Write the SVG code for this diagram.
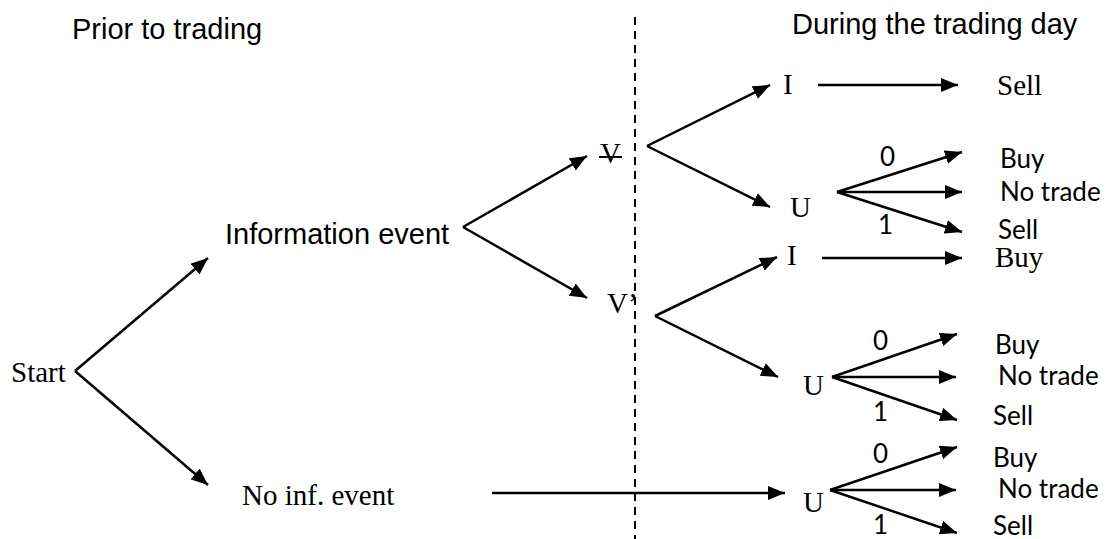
<svg xmlns="http://www.w3.org/2000/svg" width="1107" height="539" viewBox="0 0 1107 539">
<style>
.ar{font-family:"Liberation Sans",Arial,sans-serif;font-size:29px;fill:#000}
.tm{font-family:"Liberation Serif","Times New Roman",serif;font-size:29px;fill:#000}
.cb{font-family:Lato,"Open Sans",sans-serif;font-size:26px;fill:#000}
.c{stroke:#000;stroke-width:2.5;fill:none;marker-end:url(#ah)}
</style>
<defs>
<marker id="ah" markerUnits="userSpaceOnUse" markerWidth="18" markerHeight="14" refX="17" refY="7" orient="auto">
<path d="M0,0 L17,7 L0,14 z" fill="#000"/>
</marker>
</defs>
<g id="headers">
<text class="ar" x="72" y="39">Prior to trading</text>
<text class="ar" x="792" y="34">During the trading day</text>
</g>
<line x1="635" y1="17" x2="635" y2="539" stroke="#000" stroke-width="2" stroke-dasharray="8,6"/>
<g id="connectors">
<line class="c" x1="75" y1="371" x2="208" y2="258"/>
<line class="c" x1="75" y1="371" x2="208" y2="485"/>
<line class="c" x1="463" y1="227" x2="587" y2="156"/>
<line class="c" x1="463" y1="227" x2="587" y2="298"/>
<line class="c" x1="647" y1="146" x2="770" y2="85"/>
<line class="c" x1="647" y1="146" x2="770" y2="207"/>
<line class="c" x1="818" y1="85" x2="958" y2="85"/>
<line class="c" x1="837" y1="192" x2="962" y2="152"/>
<line class="c" x1="837" y1="192" x2="962" y2="192"/>
<line class="c" x1="837" y1="192" x2="962" y2="232"/>
<line class="c" x1="655" y1="316" x2="777" y2="257"/>
<line class="c" x1="655" y1="316" x2="778" y2="377"/>
<line class="c" x1="822" y1="258" x2="962" y2="258"/>
<line class="c" x1="832" y1="377" x2="957" y2="334"/>
<line class="c" x1="832" y1="377" x2="956" y2="377"/>
<line class="c" x1="832" y1="377" x2="957" y2="420"/>
<line class="c" x1="492" y1="493" x2="785" y2="493"/>
<line class="c" x1="830" y1="490" x2="957" y2="447"/>
<line class="c" x1="830" y1="490" x2="956" y2="490"/>
<line class="c" x1="830" y1="490" x2="957" y2="533"/>
</g>
<g id="start"><text class="tm" x="11" y="382">Start</text></g>
<g id="info-event"><text class="ar" x="225" y="244">Information event</text></g>
<g id="no-inf-event"><text class="tm" x="242" y="505">No inf. event</text></g>
<g id="v-high"><text class="tm" x="600" y="163">V</text><line x1="599" y1="157" x2="622" y2="157" stroke="#000" stroke-width="2"/></g>
<g id="v-low"><text class="tm" x="607" y="313">V’</text></g>
<g id="i-top"><text class="tm" x="783" y="94">I</text></g>
<g id="sell-top"><text class="tm" x="997" y="95">Sell</text></g>
<g id="u-top"><text class="tm" x="790" y="217">U</text></g>
<g id="u-top-out">
<text class="cb" x="880" y="166">0</text>
<text class="cb" x="1000" y="168">Buy</text>
<text class="cb" x="1000" y="201">No trade</text>
<text class="cb" x="878" y="234">1</text>
<text class="cb" x="998" y="239">Sell</text>
</g>
<g id="i-mid"><text class="tm" x="787" y="265">I</text></g>
<g id="buy-mid"><text class="tm" x="995" y="267">Buy</text></g>
<g id="u-mid"><text class="tm" x="803" y="395">U</text></g>
<g id="u-mid-out">
<text class="cb" x="873" y="350">0</text>
<text class="cb" x="995" y="354">Buy</text>
<text class="cb" x="998" y="385">No trade</text>
<text class="cb" x="873" y="421">1</text>
<text class="cb" x="993" y="425">Sell</text>
</g>
<g id="u-bot"><text class="tm" x="803" y="512">U</text></g>
<g id="u-bot-out">
<text class="cb" x="873" y="463">0</text>
<text class="cb" x="993" y="467">Buy</text>
<text class="cb" x="998" y="498">No trade</text>
<text class="cb" x="873" y="534">1</text>
<text class="cb" x="993" y="535">Sell</text>
</g>
</svg>
